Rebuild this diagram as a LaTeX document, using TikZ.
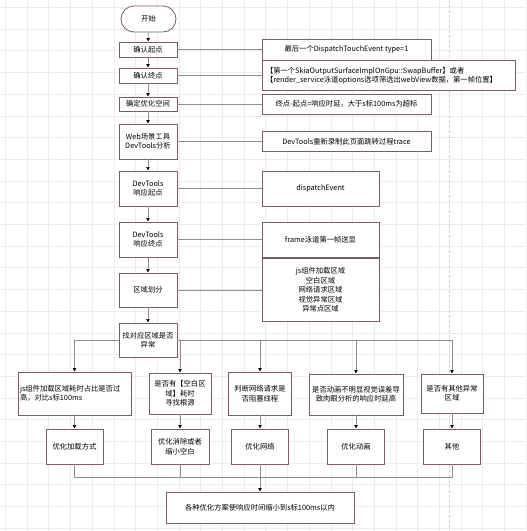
\documentclass[tikz,border=0pt]{standalone}
\usepackage{fontspec}
\setmainfont{Noto Sans CJK SC}
\usepackage{xcolor}
\usetikzlibrary{shapes.misc, positioning, arrows.meta}

\definecolor{boxline}{HTML}{7A5C66}
\definecolor{linkgray}{HTML}{8E8E8E}
\definecolor{gridgray}{HTML}{ECECEC}

\tikzset{
  stepbox/.style={draw=boxline, fill=white, line width=0.8pt, align=center,
    inner sep=1pt, font=\fontsize{7.3}{9.4}\selectfont},
  flow/.style={draw=linkgray, line width=0.8pt,
    -{Latex[length=3.5pt, width=4pt, color=black]}},
  link/.style={draw=linkgray, line width=0.8pt},
}

\begin{document}
\begin{tikzpicture}[x=1pt, y=-1pt]
				\useasboundingbox (0,0) rectangle (527,531);
				
				%% Grade
				\foreach \k in {0,...,24} {
					\draw [gridgray, line width=0.6pt] ({5.3+21.7*\k},0) -- ++(0,531);
					\draw [gridgray, line width=0.6pt] (0,{7.3+21.7*\k}) -- ++(527,0);
				}
				\draw [densely dashed, gray!35, line width=0.6pt] (449,0) -- (449,531);
				
				%% Coluna principal
				\node [stepbox, rounded rectangle, minimum width=57, minimum height=26] (start) at (148.5,19) {开始};
				\node [stepbox, minimum width=58, minimum height=15] (qdStart) at (148,49.5) {确认起点};
				\node [stepbox, minimum width=58, minimum height=15] (qdEnd) at (148,75.5) {确认终点};
				\node [stepbox, minimum width=58, minimum height=14] (space) at (148,104) {确定优化空间};
				\node [stepbox, minimum width=58, minimum height=35] (web) at (148,141.5) {Web场景工具\\DevTools分析};
				\node [stepbox, minimum width=58, minimum height=35] (dtStart) at (148,188.5) {DevTools\\响应起点};
				\node [stepbox, minimum width=58, minimum height=35] (dtEnd) at (148,239.5) {DevTools\\响应终点};
				\node [stepbox, minimum width=58, minimum height=34] (area) at (148,290) {区域划分};
				\node [stepbox, minimum width=58, minimum height=34] (find) at (148,340) {找对应区域是否\\异常};
				
				%% Notas
				\node [stepbox, minimum width=169, minimum height=21] (nStart) at (346.5,49.5) {最后一个DispatchTouchEvent type=1};
				\node [stepbox, minimum width=253, minimum height=30, text width=245, align=left, inner sep=4pt] (nEnd) at (388.5,75.5)
				{【第一个SkiaOutputSurfaceImplOnGpu::SwapBuffer】或者\\【render\_service泳道options选项筛选出webView数据，第一帧位置】};
				\node [stepbox, minimum width=169, minimum height=20] (nSpace) at (346.5,104) {终点-起点=响应时延，大于s标100ms为超标};
				\node [stepbox, minimum width=169, minimum height=20] (nWeb) at (346.5,141.5) {DevTools重新录制此页面跳转过程trace};
				\node [stepbox, minimum width=117, minimum height=35] (nDtStart) at (320.5,188.5) {dispatchEvent};
				\node [stepbox, minimum width=117, minimum height=35] (nDtEnd) at (320.5,239.5) {frame泳道第一帧送显};
				\node [stepbox, minimum width=117, minimum height=63] (nArea) at (320.5,290)
				{js组件加载区域\\空白区域\\网络请求区域\\视觉异常区域\\异常点区域};
				
				%% Ramos
				\node [stepbox, minimum width=113, minimum height=43, text width=109, align=left] (bJs) at (74.5,393.5) {js组件加载区域耗时占比是否过\\高，对比s标100ms};
				\node [stepbox, minimum width=62, minimum height=41] (bBlank) at (180,393.5) {是否有【空白区\\域】耗时\\寻找根源};
				\node [stepbox, minimum width=63, minimum height=43] (bNet) at (260,393.5) {判断网络请求是\\否阻塞线程};
				\node [stepbox, minimum width=94, minimum height=41] (bAnim) at (356,394.5) {是否动画不明显视觉误差导\\致肉眼分析的响应时延高};
				\node [stepbox, minimum width=62, minimum height=39] (bOther) at (452,393.5) {是否有其他异常\\区域};
				
				\node [stepbox, minimum width=57, minimum height=35] (oJs) at (74.5,446.5) {优化加载方式};
				\node [stepbox, minimum width=58, minimum height=35] (oBlank) at (180,446.5) {优化消除或者\\缩小空白};
				\node [stepbox, minimum width=57, minimum height=35] (oNet) at (260,446.5) {优化网络};
				\node [stepbox, minimum width=57, minimum height=35] (oAnim) at (356,446.5) {优化动画};
				\node [stepbox, minimum width=57, minimum height=35] (oOther) at (452,446.5) {其他};
				
				\node [stepbox, minimum width=188, minimum height=31] (final) at (260,507.5) {各种优化方案使响应时间缩小到s标100ms以内};
				\coordinate (merge) at (260,477);
				
				%% Setas da coluna
				\draw [flow] (start) -- (qdStart);
				\draw [flow] (qdStart) -- (qdEnd);
				\draw [flow] (qdEnd) -- (space);
				\draw [flow] (space) -- (web);
				\draw [flow] (web) -- (dtStart);
				\draw [flow] (dtStart) -- (dtEnd);
				\draw [flow] (dtEnd) -- (area);
				\draw [flow] (area) -- (find);
				
				%% Ligacoes com as notas
				\draw [link] (qdStart) -- (nStart);
				\draw [link] (qdEnd) -- (nEnd);
				\draw [link] (space) -- (nSpace);
				\draw [link] (web) -- (nWeb);
				\draw [link] (dtStart) -- (nDtStart);
				\draw [link] (dtEnd) -- (nDtEnd);
				\draw [link] (area) -- (nArea);
				
				%% Divisao
				\draw [flow] (find.west) -| (bJs.north);
				\draw [flow] (find.east) -| (bBlank.north);
				\draw [flow] (find.east) -| (bNet.north);
				\draw [flow] (find.east) -| (bAnim.north);
				\draw [flow] (find.east) -| (bOther.north);
				
				\draw [flow] (bJs) -- (oJs);
				\draw [flow] (bBlank) -- (oBlank);
				\draw [flow] (bNet) -- (oNet);
				\draw [flow] (bAnim) -- (oAnim);
				\draw [flow] (bOther) -- (oOther);
				
				%% Juncao
				\draw [link] (oJs) |- (merge);
				\draw [link] (oOther) |- (merge);
				\draw [link] (oBlank) -- (oBlank.south |- merge);
				\draw [link] (oAnim) -- (oAnim.south |- merge);
				\draw [flow] (oNet) -- (final);
				
			\end{tikzpicture}
\end{document}
